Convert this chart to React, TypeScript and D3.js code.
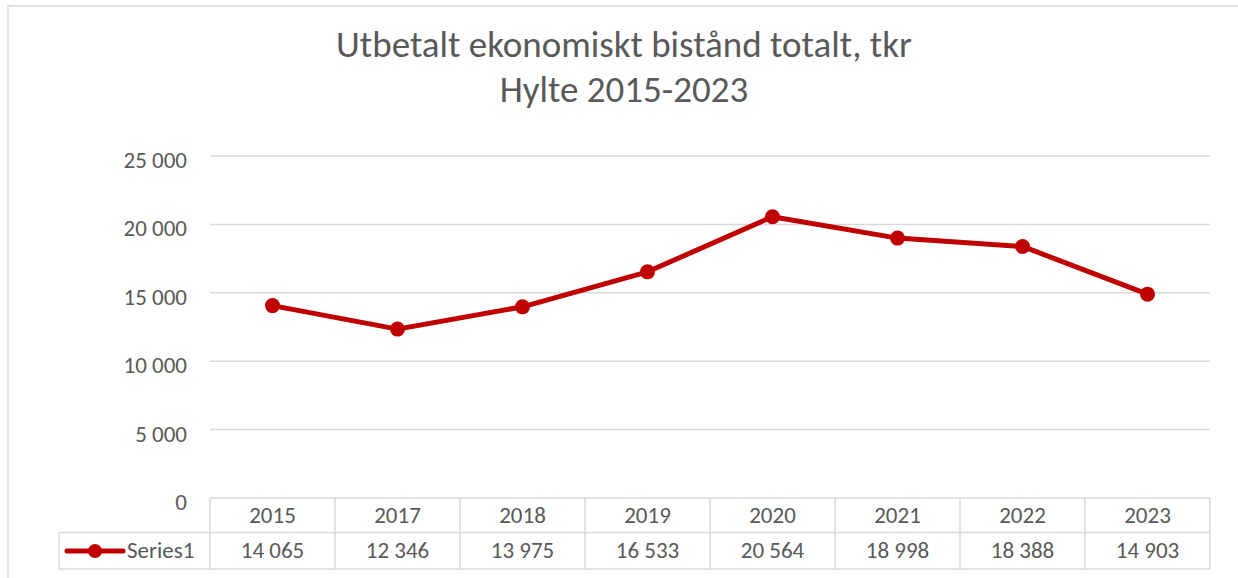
import React from "react";
import * as d3 from "d3";

const categories = ["2015", "2017", "2018", "2019", "2020", "2021", "2022", "2023"];
const values = [14065, 12346, 13975, 16533, 20564, 18998, 18388, 14903];
const yTicks = [0, 5000, 10000, 15000, 20000, 25000];
const seriesName = "Series1";
const titleLines = ["Utbetalt ekonomiskt bistånd totalt, tkr", "Hylte 2015-2023"];

const W = 1238;
const H = 578;
const FONT = "Carlito, Lato, sans-serif";
const TXT = "#595959";
const GRID = "#d9d9d9";
const RED = "#C00000";

const fmt = (v: number) => d3.format(",")(v).replace(/,/g, " ");

export default function App() {
  const x = d3.scaleBand<string>().domain(categories).range([210, 1210]);
  const y = d3.scaleLinear().domain([0, 25000]).range([498, 156]);
  const row1Top = 498;
  const row1Bot = 532.5;
  const row2Bot = 569;
  const legendLeft = 59;
  const cx = (i: number) => (x(categories[i]) as number) + x.bandwidth() / 2;

  const line = d3
    .line<number>()
    .x((_, i) => cx(i))
    .y((d) => y(d));

  return (
    <svg
      width={W}
      height={H}
      style={{ position: "absolute", left: 0, top: 0, background: "#fff" }}
      fontFamily={FONT}
    >
      <rect x={0} y={0} width={W} height={H} fill="#fff" />
      <rect x={8} y={6} width={1232} height={620} fill="#fff" stroke={GRID} strokeWidth={1.5} />

      {titleLines.map((t, i) => (
        <text key={i} x={624} y={57 + i * 45} textAnchor="middle" fontSize={37} fill={TXT}>
          {t}
        </text>
      ))}

      {yTicks.map((t) => (
        <g key={t}>
          {t > 0 && <line x1={210} x2={1210} y1={y(t)} y2={y(t)} stroke={GRID} strokeWidth={1.5} />}
          <text x={187} y={y(t) + 12} textAnchor="end" fontSize={23} fill={TXT}>
            {fmt(t)}
          </text>
        </g>
      ))}

      {/* data table */}
      <g stroke={GRID} strokeWidth={1.5} fill="none">
        <line x1={210} x2={1210} y1={row1Top} y2={row1Top} />
        <line x1={legendLeft} x2={1210} y1={row1Bot} y2={row1Bot} />
        <line x1={legendLeft} x2={1210} y1={row2Bot} y2={row2Bot} />
        <line x1={legendLeft} x2={legendLeft} y1={row1Bot} y2={row2Bot} />
        {categories.map((c) => (
          <line key={c} x1={x(c) as number} x2={x(c) as number} y1={row1Top} y2={row2Bot} />
        ))}
        <line x1={1210} x2={1210} y1={row1Top} y2={row2Bot} />
      </g>
      {categories.map((c, i) => (
        <g key={c}>
          <text x={cx(i)} y={522.5} textAnchor="middle" fontSize={23} fill={TXT}>
            {c}
          </text>
          <text x={cx(i)} y={557.5} textAnchor="middle" fontSize={23} fill={TXT}>
            {fmt(values[i])}
          </text>
        </g>
      ))}
      <line x1={67} x2={123} y1={551} y2={551} stroke={RED} strokeWidth={5} strokeLinecap="round" />
      <circle cx={95} cy={551} r={7} fill={RED} />
      <text x={127} y={557.5} fontSize={23} fill={TXT}>
        {seriesName}
      </text>

      <path d={line(values) || ""} fill="none" stroke={RED} strokeWidth={5} strokeLinejoin="round" />
      {values.map((v, i) => (
        <circle key={i} cx={cx(i)} cy={y(v)} r={7.5} fill={RED} />
      ))}
    </svg>
  );
}
